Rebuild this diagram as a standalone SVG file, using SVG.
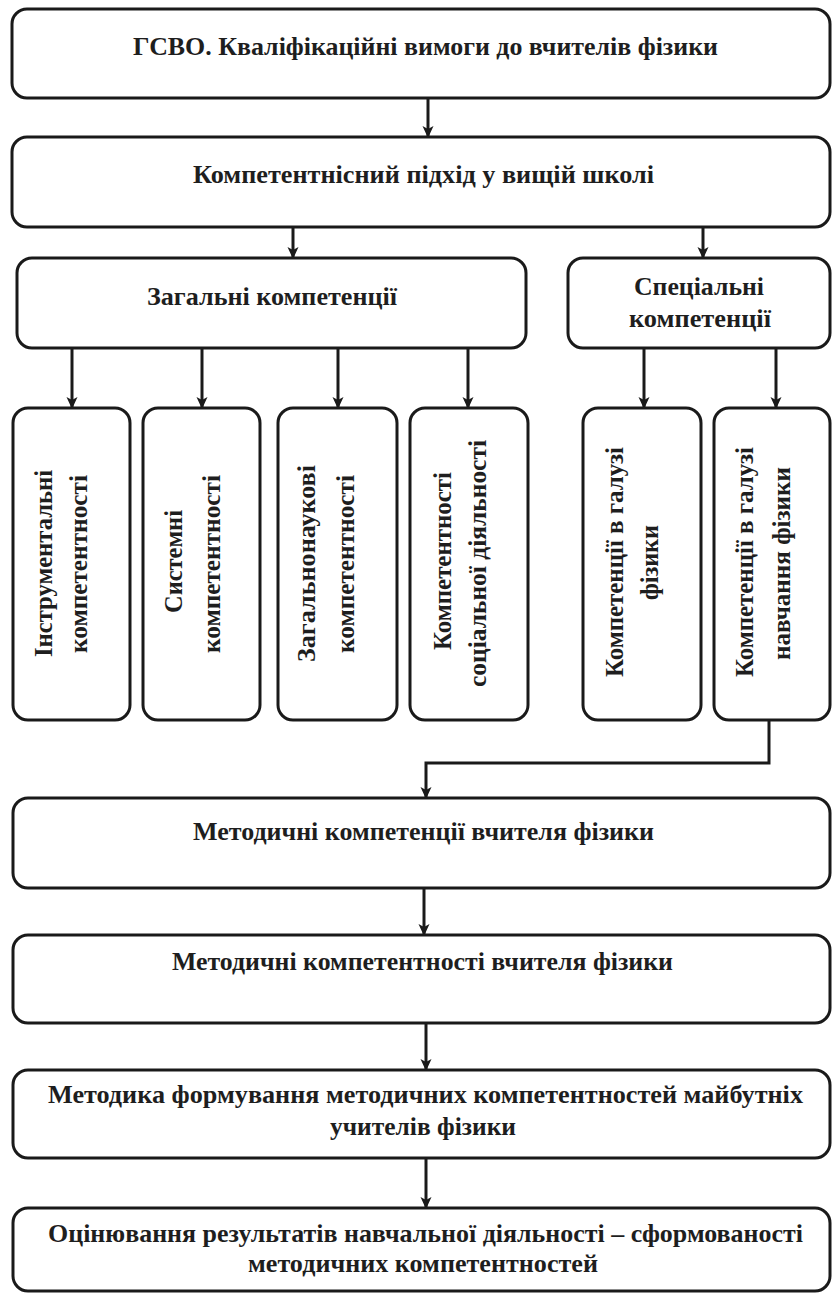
<svg xmlns="http://www.w3.org/2000/svg" width="832" height="1294" viewBox="0 0 832 1294">
  <style>
    .box { fill: #ffffff; stroke: #1a1a1a; stroke-width: 3; }
    .lbl { font-family: "Liberation Serif", "Times New Roman", serif; font-weight: bold; font-size: 25px; fill: #1e1e1e; text-anchor: middle; }
    .wire { fill: none; stroke: #1a1a1a; stroke-width: 3; marker-end: url(#head); }
  </style>
  <defs>
    <marker id="head" viewBox="0 0 12 12" refX="11" refY="6" markerWidth="12" markerHeight="12" markerUnits="userSpaceOnUse" orient="auto">
      <path d="M0,0.5 L12,6 L0,11.5 L3,6 Z" fill="#1a1a1a"/>
    </marker>
  </defs>
  <rect width="832" height="1294" fill="#ffffff"/>

  <!-- connectors -->
  <g id="connectors">
    <path class="wire" d="M428,98 V137"/>
    <path class="wire" d="M293,227 V258"/>
    <path class="wire" d="M703,227 V258"/>
    <path class="wire" d="M72,348 V408"/>
    <path class="wire" d="M202,348 V408"/>
    <path class="wire" d="M338,348 V408"/>
    <path class="wire" d="M468,348 V408"/>
    <path class="wire" d="M644,348 V408"/>
    <path class="wire" d="M776,348 V408"/>
    <path class="wire" d="M769,720 V763 H426 V798"/>
    <path class="wire" d="M424,888 V935"/>
    <path class="wire" d="M426,1023 V1070"/>
    <path class="wire" d="M426,1158 V1208"/>
  </g>

  <!-- top chain -->
  <g id="gsvo">
    <rect class="box" x="12" y="9" width="818" height="89" rx="15"/>
    <text class="lbl" x="425.5" y="55" textLength="585" lengthAdjust="spacingAndGlyphs">ГСВО. Кваліфікаційні вимоги до вчителів фізики</text>
  </g>
  <g id="approach">
    <rect class="box" x="12" y="137" width="818" height="90" rx="15"/>
    <text class="lbl" x="423.5" y="183" textLength="461" lengthAdjust="spacingAndGlyphs">Компетентнісний підхід у вищій школі</text>
  </g>
  <g id="general">
    <rect class="box" x="17" y="258" width="509" height="90" rx="15"/>
    <text class="lbl" x="272" y="305" textLength="250" lengthAdjust="spacingAndGlyphs">Загальні компетенції</text>
  </g>
  <g id="special">
    <rect class="box" x="568" y="258" width="262" height="90" rx="15"/>
    <text class="lbl" x="699" y="295" textLength="130" lengthAdjust="spacingAndGlyphs">Спеціальні</text>
    <text class="lbl" x="700" y="327" textLength="142" lengthAdjust="spacingAndGlyphs">компетенції</text>
  </g>

  <!-- vertical competence boxes -->
  <g id="instrumental">
    <rect class="box" x="13" y="408" width="117" height="312" rx="15"/>
    <text class="lbl" x="52" y="563.5" transform="rotate(-90 52 563.5)" textLength="187" lengthAdjust="spacingAndGlyphs">Інструментальні</text>
    <text class="lbl" x="87" y="564" transform="rotate(-90 87 564)" textLength="178" lengthAdjust="spacingAndGlyphs">компетентності</text>
  </g>
  <g id="systemic">
    <rect class="box" x="143" y="408" width="117" height="312" rx="15"/>
    <text class="lbl" x="182" y="561.5" transform="rotate(-90 182 561.5)" textLength="103" lengthAdjust="spacingAndGlyphs">Системні</text>
    <text class="lbl" x="220" y="564" transform="rotate(-90 220 564)" textLength="178" lengthAdjust="spacingAndGlyphs">компетентності</text>
  </g>
  <g id="scientific">
    <rect class="box" x="278" y="408" width="119" height="312" rx="15"/>
    <text class="lbl" x="315" y="563.5" transform="rotate(-90 315 563.5)" textLength="197" lengthAdjust="spacingAndGlyphs">Загальнонаукові</text>
    <text class="lbl" x="354" y="564" transform="rotate(-90 354 564)" textLength="178" lengthAdjust="spacingAndGlyphs">компетентності</text>
  </g>
  <g id="social">
    <rect class="box" x="410" y="408" width="118" height="312" rx="15"/>
    <text class="lbl" x="451" y="561" transform="rotate(-90 451 561)" textLength="178" lengthAdjust="spacingAndGlyphs">Компетентності</text>
    <text class="lbl" x="486" y="563.5" transform="rotate(-90 486 563.5)" textLength="247" lengthAdjust="spacingAndGlyphs">соціальної діяльності</text>
  </g>
  <g id="physics">
    <rect class="box" x="583" y="408" width="118" height="312" rx="15"/>
    <text class="lbl" x="623" y="562" transform="rotate(-90 623 562)" textLength="230" lengthAdjust="spacingAndGlyphs">Компетенції в галузі</text>
    <text class="lbl" x="658" y="562.5" transform="rotate(-90 658 562.5)" textLength="75" lengthAdjust="spacingAndGlyphs">фізики</text>
  </g>
  <g id="teaching">
    <rect class="box" x="714" y="408" width="116" height="312" rx="15"/>
    <text class="lbl" x="753" y="562" transform="rotate(-90 753 562)" textLength="230" lengthAdjust="spacingAndGlyphs">Компетенції в галузі</text>
    <text class="lbl" x="790" y="563.5" transform="rotate(-90 790 563.5)" textLength="193" lengthAdjust="spacingAndGlyphs">навчання фізики</text>
  </g>

  <!-- lower chain -->
  <g id="method-competences">
    <rect class="box" x="13" y="798" width="817" height="90" rx="15"/>
    <text class="lbl" x="423.5" y="840" textLength="461" lengthAdjust="spacingAndGlyphs">Методичні компетенції вчителя фізики</text>
  </g>
  <g id="method-competencies">
    <rect class="box" x="13" y="935" width="817" height="88" rx="15"/>
    <text class="lbl" x="422.5" y="970" textLength="501" lengthAdjust="spacingAndGlyphs">Методичні компетентності вчителя фізики</text>
  </g>
  <g id="methodology">
    <rect class="box" x="13" y="1070" width="817" height="88" rx="15"/>
    <text class="lbl" x="425.5" y="1103" textLength="755" lengthAdjust="spacingAndGlyphs">Методика формування методичних компетентностей майбутніх</text>
    <text class="lbl" x="423" y="1135" textLength="186" lengthAdjust="spacingAndGlyphs">учителів фізики</text>
  </g>
  <g id="assessment">
    <rect class="box" x="13" y="1208" width="817" height="83" rx="15"/>
    <text class="lbl" x="425.5" y="1242" textLength="755" lengthAdjust="spacingAndGlyphs">Оцінювання результатів навчальної діяльності – сформованості</text>
    <text class="lbl" x="423" y="1272" textLength="350" lengthAdjust="spacingAndGlyphs">методичних компетентностей</text>
  </g>
</svg>
